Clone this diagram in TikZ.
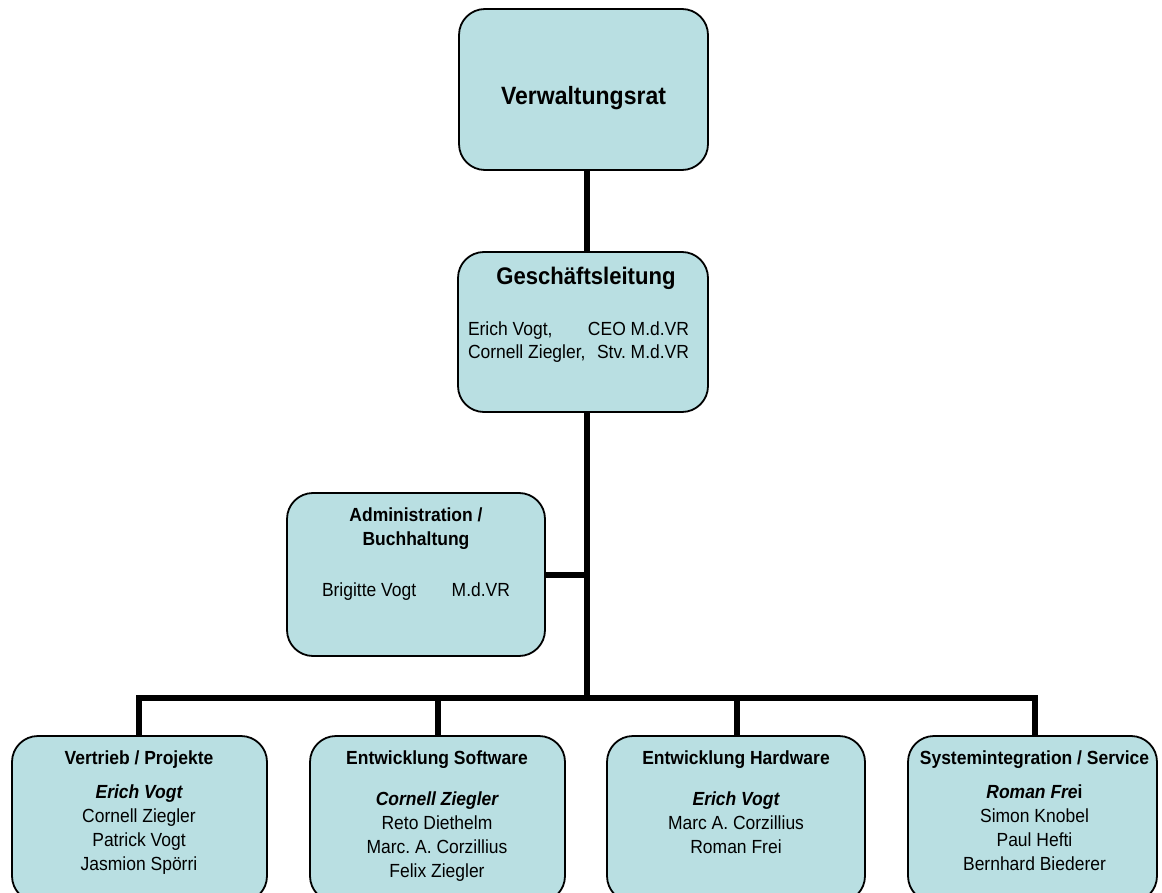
\documentclass[tikz,border=0pt]{standalone}
\usepackage{fontspec}
\setmainfont{Liberation Sans}[FakeStretch=0.92]
\definecolor{boxfill}{RGB}{185,223,226}
\frenchspacing
\tikzset{
  box/.style={draw=black, line width=1.8pt, fill=boxfill, rounded corners=26pt, inner sep=0pt},
  conn/.style={draw=black, line width=6pt, line join=miter},
  bigtitle/.style={font=\fontsize{24}{28}\selectfont\bfseries, anchor=base, inner sep=0pt},
  hd/.style={font=\fontsize{19}{23}\selectfont\bfseries, anchor=base, inner sep=0pt},
  txt/.style={font=\fontsize{19}{23}\selectfont, anchor=base, inner sep=0pt},
  bi/.style={font=\fontsize{19}{23}\selectfont\bfseries\itshape, anchor=base, inner sep=0pt}
}
\begin{document}
\begin{tikzpicture}[x=1pt,y=-1pt]
\useasboundingbox (0,0) rectangle (1162,893);
\begin{scope}
\clip (0,0) rectangle (1162,893);
% boxes
\node[box, minimum width=249pt, minimum height=161pt] (vr) at (583.5,89.5) {};
\node[box, minimum width=250pt, minimum height=160pt] (gl) at (583,332) {};
\node[box, minimum width=258pt, minimum height=163pt] (adm) at (416,574.5) {};
\node[box, minimum width=255pt, minimum height=166pt] (b1) at (139.5,819) {};
\node[box, minimum width=255pt, minimum height=166pt] (b2) at (437.5,819) {};
\node[box, minimum width=258pt, minimum height=166pt] (b3) at (736,819) {};
\node[box, minimum width=249pt, minimum height=166pt] (b4) at (1032.5,819) {};
% connector points
\coordinate (bus) at (587,698);
\coordinate (d1) at (139,698);
\coordinate (d2) at (438,698);
\coordinate (d3) at (737,698);
\coordinate (d4) at (1035,698);
\draw[conn] (vr.south -| bus) -- (gl.north -| bus);
\draw[conn] (gl.south -| bus) -- (bus);
\draw[conn] (adm.east) -- (adm.east -| bus);
\draw[conn] (b1.north -| d1) -- (d1) -- (d4) -- (b4.north -| d4);
\draw[conn] (d2) -- (b2.north -| d2);
\draw[conn] (d3) -- (b3.north -| d3);
% texts
\node[bigtitle, font=\fontsize{25}{28}\selectfont\bfseries] (vrt) at (583.5,105) {Verwaltungsrat};
\node[bigtitle] (glt) at (586,285) {Geschäftsleitung};
\node[txt] (gl1) at (578.5,335) {\makebox[221pt]{Erich Vogt,\hfill CEO M.d.VR}};
\node[txt] (gl2) at (578.5,358) {\makebox[221pt]{Cornell Ziegler,\hfill Stv. M.d.VR}};
\node[hd] (adt1) at (416,521.7) {Administration /};
\node[hd] (adt2) at (416,545.7) {Buchhaltung};
\node[txt] (ad1) at (416,596.7) {\makebox[188pt]{Brigitte Vogt\hfill M.d.VR}};
% box 1
\node[hd] (t1) at (139,764) {Vertrieb / Projekte};
\node[bi] (p11) at (139,798) {Erich Vogt};
\node[txt] (p12) at (139,822) {Cornell Ziegler};
\node[txt] (p13) at (139,846) {Patrick Vogt};
\node[txt] (p14) at (139,870) {Jasmion Spörri};
% box 2
\node[hd] (t2) at (437,764) {Entwicklung Software};
\node[bi] (p21) at (437,805) {Cornell Ziegler};
\node[txt] (p22) at (437,829) {Reto Diethelm};
\node[txt] (p23) at (437,853) {Marc. A. Corzillius};
\node[txt] (p24) at (437,877) {Felix Ziegler};
% box 3
\node[hd] (t3) at (736,764) {Entwicklung Hardware};
\node[bi] (p31) at (736,805) {Erich Vogt};
\node[txt] (p32) at (736,829) {Marc A. Corzillius};
\node[txt] (p33) at (736,853) {Roman Frei};
% box 4
\node[hd] (t4) at (1034.5,764) {Systemintegration / Service};
\node[bi] (p41) at (1034.5,798) {Roman Fre\textup{i}};
\node[txt] (p42) at (1034.5,822) {Simon Knobel};
\node[txt] (p43) at (1034.5,846) {Paul Hefti};
\node[txt] (p44) at (1034.5,870) {Bernhard Biederer};
\end{scope}
\end{tikzpicture}
\end{document}
